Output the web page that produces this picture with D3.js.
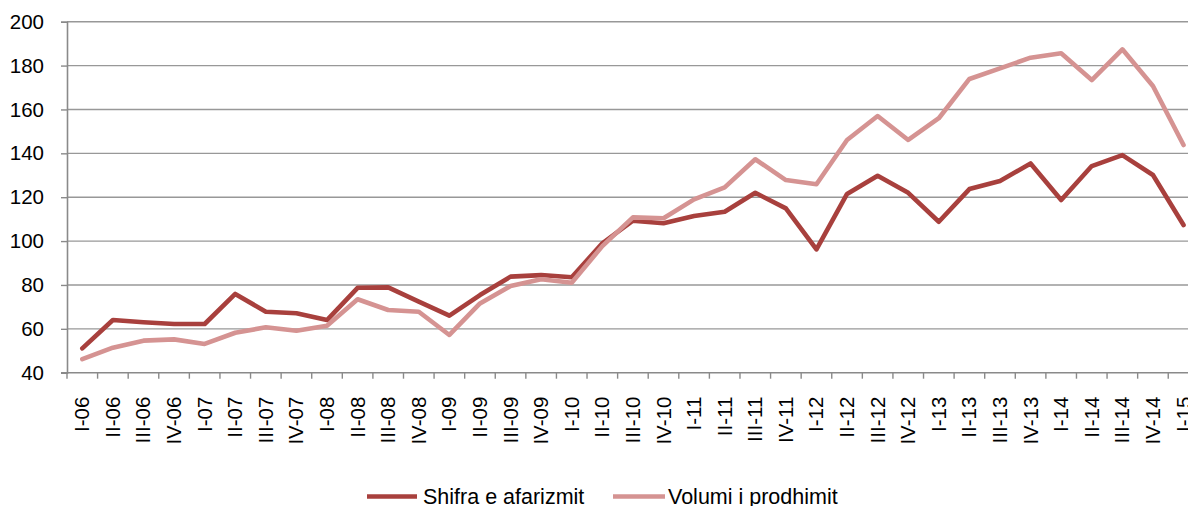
<!DOCTYPE html>
<html>
<head>
<meta charset="utf-8">
<script src="https://cdn.jsdelivr.net/npm/d3@7"></script>
<style>
  html, body { margin: 0; padding: 0; background: #fff; overflow: hidden; }
  svg { display: block; font-family: "Liberation Sans", Arial, sans-serif; }
</style>
</head>
<body>
<svg id="chart" width="1188" height="506"></svg>
<script>
const categories = ["I-06","II-06","III-06","IV-06","I-07","II-07","III-07","IV-07","I-08","II-08","III-08","IV-08",
  "I-09","II-09","III-09","IV-09","I-10","II-10","III-10","IV-10","I-11","II-11","III-11","IV-11",
  "I-12","II-12","III-12","IV-12","I-13","II-13","III-13","IV-13","I-14","II-14","III-14","IV-14","I-15"];
const shifra = [51.1, 64.0, 63.0, 62.2, 62.2, 75.9, 67.8, 67.1, 64.0, 78.7, 78.9, 72.4,
  66.0, 75.4, 83.8, 84.5, 83.5, 99.0, 109.3, 108.1, 111.4, 113.4, 122.0, 114.9,
  96.2, 121.5, 129.8, 122.0, 108.8, 123.7, 127.4, 135.4, 118.7, 134.2, 139.2, 130.1, 107.3];
const volumi = [46.2, 51.4, 54.6, 55.2, 53.1, 58.2, 60.7, 59.1, 61.4, 73.5, 68.6, 67.8,
  57.2, 71.6, 79.5, 82.6, 81.0, 97.7, 110.8, 110.4, 119.0, 124.5, 137.3, 127.8,
  125.9, 146.1, 157.0, 146.1, 156.0, 173.9, 178.7, 183.6, 185.6, 173.4, 187.4, 170.7, 143.8];
const yTicks = [40, 60, 80, 100, 120, 140, 160, 180, 200];
const seriesNames = ["Shifra e afarizmit", "Volumi i prodhimit"];
const seriesColors = ["#A8403D", "#D59392"];

(function () {
const svg = d3.select("#chart");
const mLeft = 67, mTop = 21.7, mBottom = 372.7, mRight = 67 + 37 * 30.59;

const x = d3.scaleBand().domain(categories).range([mLeft, mRight]).padding(0);
const y = d3.scaleLinear().domain([40, 200]).range([mBottom, mTop]);

// gridlines
svg.append("g").selectAll("line").data(yTicks.filter(d => d !== 40)).join("line")
  .attr("x1", mLeft).attr("x2", 1188)
  .attr("y1", d => y(d)).attr("y2", d => y(d))
  .attr("stroke", "#989898").attr("stroke-width", 1.4);

// y axis
const yAxis = svg.append("g").attr("transform", `translate(${mLeft},0)`)
  .call(d3.axisLeft(y).tickValues(yTicks).tickSize(6).tickPadding(17));
yAxis.select(".domain").attr("stroke", "#8a8a8a").attr("stroke-width", 1.6);
yAxis.selectAll(".tick line").attr("stroke", "#8a8a8a").attr("stroke-width", 1.4);
yAxis.selectAll(".tick text").attr("font-size", 20.5).attr("fill", "#000")
  .attr("font-family", "Liberation Sans, Arial, sans-serif");

// x axis
const xg = svg.append("g");
xg.append("line").attr("x1", mLeft - 6).attr("x2", 1188).attr("y1", mBottom).attr("y2", mBottom)
  .attr("stroke", "#8a8a8a").attr("stroke-width", 1.6);
const bounds = categories.map(c => x(c));
xg.selectAll("line.tk").data(bounds).join("line").attr("class", "tk")
  .attr("x1", d => d).attr("x2", d => d).attr("y1", mBottom).attr("y2", mBottom + 6)
  .attr("stroke", "#8a8a8a").attr("stroke-width", 1.4);
xg.selectAll("text").data(categories).join("text")
  .attr("transform", d => `translate(${x(d) + x.bandwidth() / 2 + 7},${mBottom + 24}) rotate(-90)`)
  .attr("text-anchor", "end")
  .attr("font-size", 20.5).attr("fill", "#000")
  .text(d => d);

// lines
const line = d3.line().x((d, i) => x(categories[i]) + x.bandwidth() / 2).y(d => y(d));
[shifra, volumi].forEach((s, k) => {
  svg.append("path").datum(s).attr("d", line)
    .attr("fill", "none").attr("stroke", seriesColors[k]).attr("stroke-width", 4.6)
    .attr("stroke-linejoin", "round").attr("stroke-linecap", "round");
});

// legend
const legendItems = [{x1: 367, x2: 417, tx: 423}, {x1: 613, x2: 665, tx: 668}];
legendItems.forEach((l, k) => {
  svg.append("line").attr("x1", l.x1).attr("x2", l.x2).attr("y1", 496.5).attr("y2", 496.5)
    .attr("stroke", seriesColors[k]).attr("stroke-width", 4.6);
  svg.append("text").attr("x", l.tx).attr("y", 504).attr("font-size", 21.5).attr("fill", "#000")
    .text(seriesNames[k]);
});
})();
</script>
</body>
</html>
